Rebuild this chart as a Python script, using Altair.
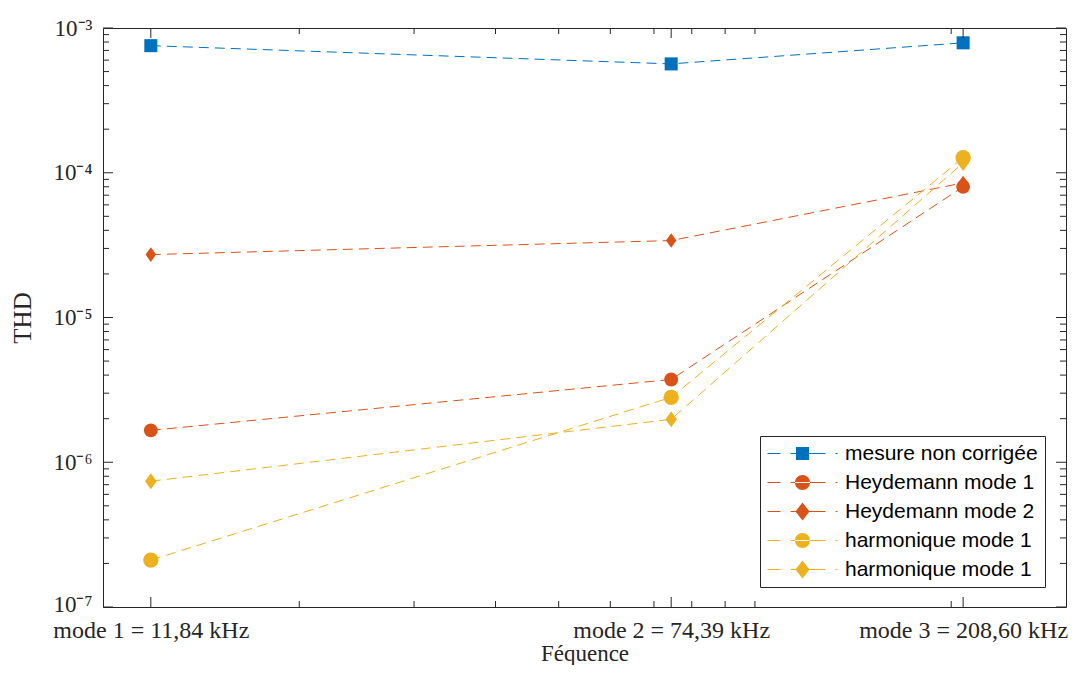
import json
import altair as alt
import pandas as pd

# ---------------- data ----------------
freq_khz = [11.84, 74.39, 208.60]
mode_labels = ["mode 1 = 11,84 kHz", "mode 2 = 74,39 kHz", "mode 3 = 208,60 kHz"]

series_keys = ["mesure", "heyd1", "heyd2", "harm1", "harm1b"]
series_labels = ["mesure non corrigée", "Heydemann mode 1", "Heydemann mode 2",
                 "harmonique mode 1", "harmonique mode 1"]

thd_mesure = [7.55e-4, 5.65e-4, 7.9e-4]
thd_heyd1 = [1.66e-6, 3.73e-6, 8.0e-5]
thd_heyd2 = [2.72e-5, 3.40e-5, 8.5e-5]
thd_harm1 = [2.11e-7, 2.81e-6, 1.27e-4]
thd_harm1b = [7.4e-7, 1.98e-6, 1.17e-4]

y_major = [1e-7, 1e-6, 1e-5, 1e-4, 1e-3]
y_major_labels = ["10⁻⁷", "10⁻⁶", "10⁻⁵", "10⁻⁴", "10⁻³"]
y_minor = [m * 10.0 ** e for e in range(-7, -3) for m in range(2, 10)]
x_minor = [20, 30, 40, 50, 60, 70, 80, 90, 100, 200]

# ---------------- styles ----------------
series_colors = ["#0072BD", "#D95319", "#D95319", "#EDB120", "#EDB120"]
diamond = "M0,-1L0.72,0L0,1L-0.72,0Z"
marker_shapes = ["square", "circle", diamond, "circle", diamond]
marker_sizes = [170, 256, 400, 256, 400]

# legend symbols (unit = 10 px): dashed line + marker centred at x=2.5
ln = "M-1,-0.05H0.3V0.05H-1Z M1.3,-0.05H4.8V0.05H1.3Z M5.8,-0.05H6V0.05H5.8Z "
sq = "M1.85,-0.65H3.15V0.65H1.85Z"
ci = "M1.75,0A0.75,0.75 0 1,0 3.25,0A0.75,0.75 0 1,0 1.75,0Z"
di = "M2.5,-0.9L3.2,0L2.5,0.9L1.8,0Z"
legend_shapes = [ln + sq, ln + ci, ln + di, ln + ci, ln + di]

W, H = 963, 579
AX = "#262626"
SERIF = "Liberation Serif"

rows = []
for key, vals in zip(series_keys, [thd_mesure, thd_heyd1, thd_heyd2, thd_harm1, thd_harm1b]):
    for f, v in zip(freq_khz, vals):
        rows.append({"serie": key, "f": f, "thd": v})
df = pd.DataFrame(rows)

xs = alt.Scale(type="log", domain=[10, 300], nice=False)
ys = alt.Scale(type="log", domain=[1e-7, 1e-3], nice=False)
cs = alt.Scale(domain=series_keys, range=series_colors)

# label expressions
x_expr = (f"datum.value < 30 ? {json.dumps(mode_labels[0])} : "
          f"datum.value < 130 ? {json.dumps(mode_labels[1])} : {json.dumps(mode_labels[2])}")
y_expr = f"{json.dumps(y_major_labels)}[round(log(datum.value)/LN10)+7]"
leg_expr = " : ".join(
    [f"datum.value == {json.dumps(k)} ? {json.dumps(l)}" for k, l in zip(series_keys, series_labels)]
) + " : ''"

x_axis = alt.Axis(values=freq_khz, labelExpr=x_expr, ticks=False, domain=False, grid=False,
                  labelFont=SERIF, labelFontSize=24, labelColor=AX, labelPadding=11,
                  labelLimit=500, labelFlush=False, labelOverlap=False, title="Féquence",
                  titleFont=SERIF, titleFontSize=23, titleFontWeight="normal",
                  titleColor=AX, titlePadding=0)
y_axis = alt.Axis(values=y_major, labelExpr=y_expr, ticks=False, domain=False, grid=False,
                  labelFont=SERIF, labelFontSize=23, labelColor=AX, labelPadding=11,
                  labelOffset={"condition": {"test": "datum.value < 2e-7", "value": -3}, "value": 0},
                  labelLimit=200, labelFlush=False, labelOverlap=False, title="THD",
                  titleFont=SERIF, titleFontSize=25, titleFontWeight="normal",
                  titleColor=AX, titlePadding=17)

leg = alt.Legend(
    orient="none", legendX=657, legendY=408, title=None, labelExpr=leg_expr,
    symbolSize=400, symbolStrokeWidth=0, symbolOpacity=1,
    labelFont="Liberation Sans", labelFontSize=21, labelColor="black", labelOffset=57,
    labelLimit=400, padding=7, rowPadding=7, strokeColor=AX, fillColor="white", cornerRadius=0)

X = alt.X("f:Q", scale=xs, axis=x_axis)
Y = alt.Y("thd:Q", scale=ys, axis=y_axis)

lines = alt.Chart(df).mark_line(strokeDash=[10, 6], strokeWidth=1).encode(
    x=X, y=Y,
    color=alt.Color("serie:N", scale=cs, legend=None),
    detail="serie:N",
    order="f:Q",
)

points = alt.Chart(df).mark_point(filled=True, opacity=1, strokeWidth=0).encode(
    x=X, y=Y,
    color=alt.Color("serie:N", scale=cs, legend=None),
    shape=alt.Shape("serie:N", scale=alt.Scale(domain=series_keys, range=marker_shapes), legend=None),
    size=alt.Size("serie:N", scale=alt.Scale(domain=series_keys, range=marker_sizes), legend=None),
)

legend_layer = alt.Chart(df).mark_point(filled=True, opacity=1).encode(
    x=X, y=Y,
    color=alt.Color("serie:N", scale=cs, legend=leg),
    shape=alt.Shape("serie:N", scale=alt.Scale(domain=series_keys, range=legend_shapes), legend=leg),
).transform_filter("false")

# inward ticks
ymaj = pd.DataFrame({"thd": y_major})
ymin = pd.DataFrame({"thd": y_minor})
xmaj = pd.DataFrame({"f": freq_khz})
xmin = pd.DataFrame({"f": x_minor})


def ytick(d, x0, x1):
    return alt.Chart(d).mark_rule(color=AX, strokeWidth=1).encode(
        y=Y, x=alt.value(x0), x2=alt.value(x1))


def xtick(d, y0, y1):
    return alt.Chart(d).mark_rule(color=AX, strokeWidth=1).encode(
        x=X, y=alt.value(y0), y2=alt.value(y1))


ticks = [
    ytick(ymaj, 0, 10), ytick(ymin, 0, 6), ytick(ymaj, W, W - 10), ytick(ymin, W, W - 6),
    xtick(xmaj, H, H - 10), xtick(xmin, H, H - 6), xtick(xmaj, 0, 10), xtick(xmin, 0, 6),
]

chart = alt.layer(lines, points, legend_layer, *ticks).resolve_scale(
    color="independent", shape="independent", size="independent"
).properties(
    width=W, height=H,
    autosize=alt.AutoSizeParams(type="none"),
    padding={"left": 95, "top": 20, "right": 5, "bottom": 58},
    background="white",
).configure_view(stroke=AX, strokeWidth=1)

chart.save("out.html", embed_options={"renderer": "svg", "actions": False})
